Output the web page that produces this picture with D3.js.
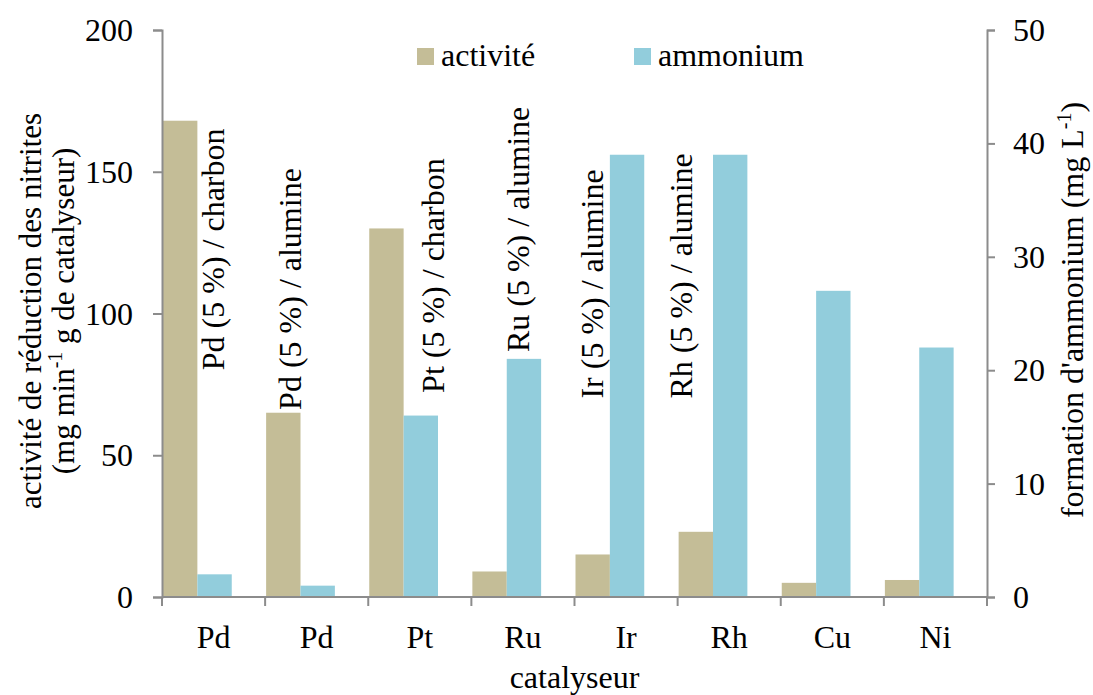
<!DOCTYPE html>
<html><head><meta charset="utf-8">
<script src="https://cdn.jsdelivr.net/npm/d3@7"></script>
<style>
html,body{margin:0;padding:0;background:#fff;}
svg text{font-family:"Liberation Serif","Times New Roman",serif;fill:#000;}
</style></head>
<body>
<svg id="chart" width="1093" height="695"></svg>
<script>
const categories = ["Pd","Pd","Pt","Ru","Ir","Rh","Cu","Ni"];
const activite = [168, 65, 130, 9, 15, 23, 5, 6];
const ammonium = [2, 1, 16, 21, 39, 39, 27, 22];
const leftTicks = [0, 50, 100, 150, 200];
const rightTicks = [0, 10, 20, 30, 40, 50];
const seriesNames = ["activité", "ammonium"];
const annotations = [
  {cat: 0, text: "Pd (5 %) / charbon", at: 80},
  {cat: 1, text: "Pd (5 %) / alumine", at: 66},
  {cat: 2, text: "Pt (5 %) / charbon", at: 72},
  {cat: 3, text: "Ru (5 %) / alumine", at: 86.4},
  {cat: 4, text: "Ir (5 %) / alumine", at: 70},
  {cat: 5, text: "Rh (5 %) / alumine", at: 70}
];
const annotOffset = [62, 36, 76, 58, 28, 14];

const FONT = '"Liberation Serif","Times New Roman",serif';
const FS = "32px";
const colors = ["#C4BD97", "#92CDDC"];
const axisColor = "#8c8c8c";
const svg = d3.select("#chart");
const L = 162, R = 987, T = 30, B = 597;

const x = d3.scaleBand().domain(d3.range(categories.length)).range([L, R]).padding(0);
const yL = d3.scaleLinear().domain([0, 200]).range([B, T]);
const yR = d3.scaleLinear().domain([0, 50]).range([B, T]);
const bw = x.bandwidth() / 3;

// bars
svg.append("g").selectAll("rect").data(activite).join("rect")
  .attr("x", (d, i) => x(i) + 1).attr("width", bw)
  .attr("y", d => yL(d)).attr("height", d => B - yL(d))
  .attr("fill", colors[0]);
svg.append("g").selectAll("rect").data(ammonium).join("rect")
  .attr("x", (d, i) => x(i) + 1 + bw).attr("width", bw)
  .attr("y", d => yR(d)).attr("height", d => B - yR(d))
  .attr("fill", colors[1]);

function styleAxis(g) {
  g.attr("font-family", FONT).attr("font-size", FS);
  g.selectAll("path,line").attr("stroke", axisColor).attr("stroke-width", 2);
  g.selectAll("text").attr("font-family", FONT).style("font-size", FS).attr("fill", "#000");
}

// left axis
svg.append("g").attr("transform", `translate(${L},0)`)
  .call(d3.axisLeft(yL).tickValues(leftTicks).tickSize(9).tickSizeOuter(9).tickPadding(20))
  .call(styleAxis).call(g => g.selectAll("text").attr("dy", "0.33em"));
// right axis
svg.append("g").attr("transform", `translate(${R},0)`)
  .call(d3.axisRight(yR).tickValues(rightTicks).tickSize(8).tickSizeOuter(8).tickPadding(18))
  .call(styleAxis).call(g => g.selectAll("text").attr("dy", "0.33em"));
// bottom axis: boundary ticks
const bounds = d3.range(categories.length + 1).map(i => i < categories.length ? x(i) : R);
const gb = svg.append("g");
gb.append("line").attr("x1", L).attr("x2", R).attr("y1", B).attr("y2", B)
  .attr("stroke", axisColor).attr("stroke-width", 2);
gb.selectAll("line.t").data(bounds).join("line").attr("class", "t")
  .attr("x1", d => d).attr("x2", d => d).attr("y1", B).attr("y2", B + 9)
  .attr("stroke", axisColor).attr("stroke-width", 2);
gb.selectAll("text").data(categories).join("text")
  .attr("x", (d, i) => x(i) + x.bandwidth() / 2).attr("y", 648)
  .attr("text-anchor", "middle").style("font-size", FS).text(d => d);

// x title
svg.append("text").attr("x", (L + R) / 2).attr("y", 688).attr("text-anchor", "middle")
  .style("font-size", FS).text("catalyseur");

// left title
const lt = svg.append("text").attr("transform", "translate(41,311) rotate(-90)")
  .attr("text-anchor", "middle").style("font-size", "31px");
lt.append("tspan").attr("x", 0).attr("y", 0).text("activité de réduction des nitrites");
const l2 = lt.append("tspan").attr("x", 0).attr("y", 33);
l2.append("tspan").text("(mg min");
l2.append("tspan").attr("dy", -12).style("font-size", "20px").text("-1");
l2.append("tspan").attr("dy", 12).text(" g de catalyseur)");

// right title
const rt = svg.append("text").attr("transform", "translate(1083,310) rotate(-90)")
  .attr("text-anchor", "middle").style("font-size", FS);
rt.append("tspan").text("formation d'ammonium (mg L");
rt.append("tspan").attr("dy", -12).style("font-size", "20px").text("-1");
rt.append("tspan").attr("dy", 12).text(")");

// annotations
svg.append("g").selectAll("text").data(annotations).join("text")
  .attr("transform", (d, i) => `translate(${x(d.cat) + annotOffset[i]},${yL(d.at)}) rotate(-90)`)
  .style("font-size", FS).text(d => d.text);

// legend
const lg = svg.append("g");
const legX = [417, 634];
seriesNames.forEach((s, i) => {
  lg.append("rect").attr("x", legX[i]).attr("y", 48).attr("width", 17).attr("height", 17).attr("fill", colors[i]);
  lg.append("text").attr("x", legX[i] + 24).attr("y", 66).style("font-size", FS).text(s);
});
</script>
</body></html>
